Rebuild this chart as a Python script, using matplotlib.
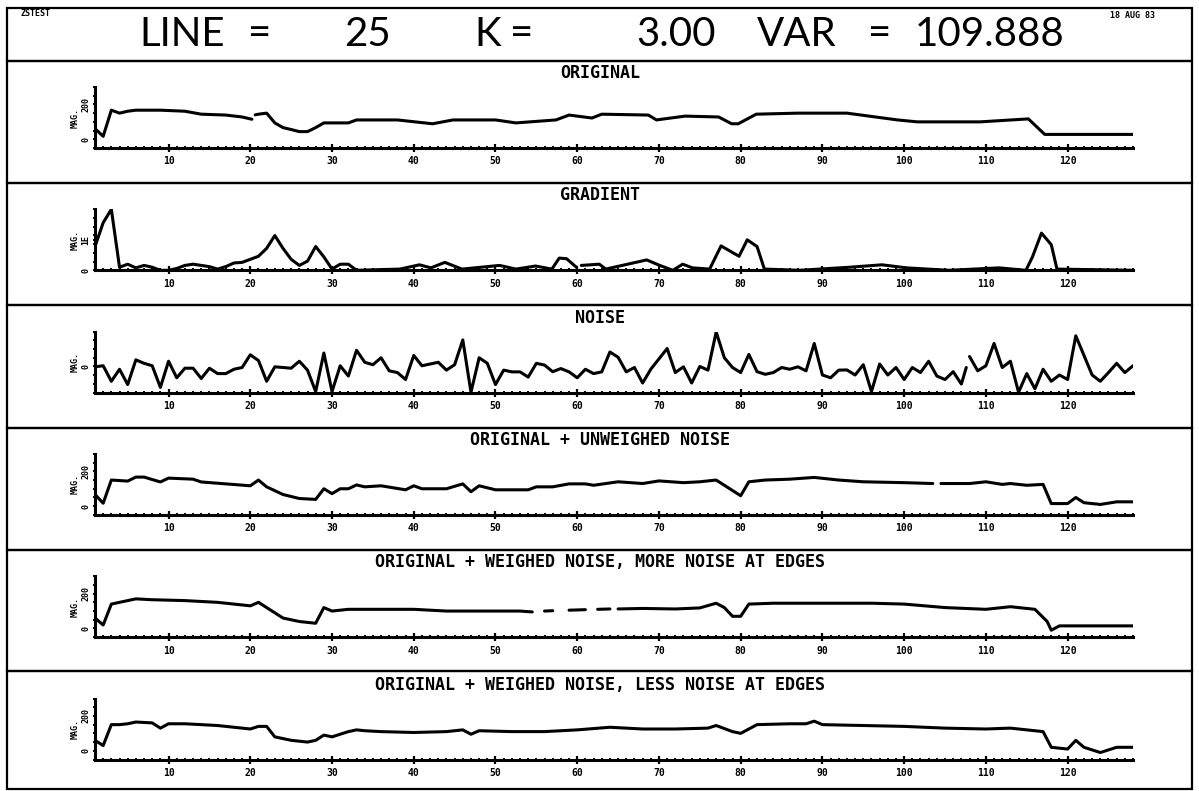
import numpy as np
import matplotlib
matplotlib.use("Agg")
import matplotlib.pyplot as plt
from matplotlib.patches import Rectangle

nan = np.nan

# ---- data ----
orig_x = [1, 2, 3, 4, 5, 6, 9, 12, 14, 17, 19, 20, 20.2, nan, 20.6, 21, 22, 23, 24, 25, 26, 27, 28, 29, 32, 33,
          38, 42.3, 44.8, 50, 52.5, 57.4, 59, 61.8, 63, 68.7, 69.7, 73.2, 77.3, 78.9, 79.7, 81.9, 87, 93,
          99.2, 101.6, 109.3, 115.2, 117.2, 128]
orig_y = [61, 17, 167, 150, 161, 167, 167, 161, 144, 139, 128, 117, 115, nan, 140, 144, 150, 94, 67, 56, 44, 44,
          67, 94, 94, 111, 111, 89, 111, 111, 94, 111, 139, 122, 144, 139, 111, 133, 128, 89, 89, 144, 150, 150,
          111, 100, 100, 117, 28, 28]

grad_x = list(range(1, 34)) + [38.3, 40.7, 42.1, 43.8, 45.9, 50.5, 52.5, 54.9, 56.9, 57.8, 58.7, 59.9, nan,
                               60.5, 62.7, 63.5, 68.5, 70.1, 71.7, 72.9, 74.1, 76.2, 77.6, 79.8, 80.8, 82, 82.9,
                               87.2, 93.3, 97.3, 100.3, 105.5, 111.6, 114.9, 115.7, 116.8, 118, 118.7, 128]
grad_y = [39, 78, 100, 5, 10, 4, 8, 5, 0, 0, 3, 8, 10, 8, 6, 2, 6, 12, 13, 18, 23, 36, 57, 36, 18, 8, 15, 39, 22,
          2, 10, 10, 0,
          2, 9, 4, 13, 2, 8, 2, 7, 2, 20, 19, 5, nan,
          8, 10, 2, 17, 8, 0, 10, 4, 2, 40, 23, 50, 39, 2,
          0, 5, 9, 4, 0, 4, 0, 22, 61, 42, 2, 0]

noise_x = list(range(1, 108)) + [107.6, nan] + list(range(108, 129))
noise_y = [-2, 4, -85, -16, -104, 38, 18, 4, -120, 30, -65, -10, -10, -69, -10, -41, -41, -16, -6, 67,
           34, -85, -2, -6, -10, 30, -21, -144, 77, -144, 4, -55, 93, 24, 10, 50, -25, -35, -75, 63,
           4, 14, 24, -21, 10, 152, -148, 50, 18, -104, -21, -31, -31, -61, 18, 8, -30, -12, -31, -65,
           -16, -41, -31, 83, 53, -31, -6, -95, -16, 44, 103, -35, -2, -95, 0, -21, 198, 50, -6, -35,
           69, -30, -45, -35, -6, -16, -2, -25, 132, -49, -65, -21, -20, -49, 10, -144, 14, -49, -6, -75,
           -6, -35, 30, -55, -75, -30, -101, -6, nan,
           57, -25, 4, 132, -6, 30, -148, -41, -128, -16, -85, -49, -75, 176, 63, -49, -85, -35, 18, -35, 4]

unw_x = [1, 2, 3, 5, 6, 7, 9, 10, 13, 14, 17, 20, 21, 22, 24, 26, 28, 29, 30, 31, 32, 33, 34, 36, 39, 40, 41,
         44, 46, 47, 48, 50, 54, 55, 57, 59, 61, 62, 65, 68, 70, 73, 75, 77, 78, 80, 81, 83, 86, 89, 92, 95,
         100, 103.5, nan, 104.5, 108, 110, 112, 113, 115, 117, 118, 120, 121, 122, 124, 126, 128]
unw_y = [67, 17, 150, 144, 167, 167, 139, 161, 155, 139, 128, 117, 150, 111, 67, 44, 39, 100, 72, 100, 100, 122,
         111, 117, 94, 117, 100, 100, 128, 83, 117, 94, 94, 111, 111, 128, 128, 120, 140, 130, 145, 135, 140,
         150, 120, 60, 140, 150, 155, 165, 150, 140, 135, 130, nan, 130, 130, 140, 125, 130, 120, 125, 15, 15,
         50, 20, 10, 25, 25]

more_x = [1, 2, 3, 4, 6, 8, 12, 16, 20, 21, 22, 24, 26, 28, 29, 30, 32, 36, 40, 44, 48, 52, 53, 54.5, nan,
          56, 57, nan, 59, 61, nan, 62.5, 64, nan, 65, 68, 72, 75, 77, 78, 79, 80, 81, 84, 90, 96, 100, 105,
          110, 113, 116, 117.5, 118, 119, 128]
more_y = [60, 20, 140, 150, 170, 165, 160, 150, 130, 150, 120, 60, 40, 30, 120, 100, 110, 110, 110, 100, 100,
          100, 100, 95, nan, 100, 102, nan, 105, 108, nan, 110, 112, nan, 112, 115, 112, 118, 145, 120, 70, 70,
          140, 145, 145, 145, 140, 120, 110, 125, 110, 40, -10, 15, 15]

less_x = [1, 2, 3, 4, 5, 6, 8, 9, 10, 12, 16, 20, 21, 22, 23, 25, 27, 28, 29, 30, 31, 32, 33, 34, 36, 40, 44,
          46, 47, 48, 52, 56, 60, 64, 68, 72, 76, 77, 79, 80, 82, 86, 88, 89, 90, 95, 100, 105, 110, 113, 115,
          117, 118, 119, 120, 121, 122, 124, 126, 128]
less_y = [60, 30, 150, 150, 155, 165, 160, 130, 155, 155, 145, 125, 140, 140, 80, 60, 50, 60, 90, 80, 95, 110,
          120, 115, 110, 105, 110, 120, 95, 115, 110, 110, 120, 135, 125, 125, 130, 145, 110, 100, 150, 155,
          155, 170, 150, 145, 140, 130, 125, 130, 120, 110, 20, 15, 10, 60, 20, -10, 20, 20]

titles = ["ORIGINAL", "GRADIENT", "NOISE", "ORIGINAL + UNWEIGHED NOISE",
          "ORIGINAL + WEIGHED NOISE, MORE NOISE AT EDGES",
          "ORIGINAL + WEIGHED NOISE, LESS NOISE AT EDGES"]
xticks = [10, 20, 30, 40, 50, 60, 70, 80, 90, 100, 110, 120]
header = [("LINE", 182), ("=", 260), ("25", 368), ("K", 488), ("=", 522),
          ("3.00", 676), ("VAR", 797), ("=", 880), ("109.888", 990)]

W, H = 1199, 791
MONO = ["DejaVu Sans Mono"]


def fx(px):
    return px / W


def fy(py):
    return 1 - py / H


def panel(fig, k, x, y, title, ylim, ylab, ytl):
    top = 87 + 122.3 * k
    bot = 148 + 122.3 * k
    ax = fig.add_axes([fx(95), fy(bot), fx(1133) - fx(95), (bot - top) / H])
    ax.plot(x, y, color="black", lw=2.2, solid_joinstyle="round", solid_capstyle="round")
    ax.set_xlim(1, 128)
    ax.set_ylim(*ylim)
    ax.spines["top"].set_visible(False)
    ax.spines["right"].set_visible(False)
    for s in ["left", "bottom"]:
        ax.spines[s].set_linewidth(2.2)
    ax.set_xticks(xticks)
    ax.set_xticklabels([str(t) for t in xticks], fontsize=7, fontweight="bold", family=MONO)
    ax.set_xticks(np.arange(1, 129), minor=True)
    ax.tick_params(axis="x", which="major", direction="inout", length=6, width=1.6, pad=3)
    ax.tick_params(axis="x", which="minor", direction="inout", length=3, width=1.4)
    step = (ylim[1] - ylim[0]) / 7
    ax.set_yticks(np.arange(ylim[0], ylim[1] + step / 2, step), minor=True)
    ax.set_yticks(list(ytl.keys()))
    ax.set_yticklabels(list(ytl.values()), fontsize=6, fontweight="bold", rotation=90, va="center",
                       family=MONO)
    ax.tick_params(axis="y", which="both", direction="inout", length=3, width=1.4, pad=2)
    ax.set_ylabel(ylab, fontsize=6, fontweight="bold", labelpad=1, family=MONO)
    fig.text(fx(600), fy(73 + 122.3 * k), title, ha="center", va="center",
             fontsize=12, fontweight="bold", family=MONO)
    return ax


fig = plt.figure(figsize=(W / 100, H / 100), dpi=100)

# frames
edges = [8, 61, 183, 305, 428, 550, 671, 789]
for i in range(len(edges) - 1):
    fig.add_artist(Rectangle((fx(7), fy(edges[i + 1])), fx(1192) - fx(7), (edges[i + 1] - edges[i]) / H,
                             transform=fig.transFigure, fill=False, lw=1.6, ec="black"))

# header
for s, cx in header:
    fig.text(fx(cx), fy(34), s, fontsize=29, va="center", ha="center", color="black",
             family=["Lato", "DejaVu Sans"], fontweight="normal")
fig.text(fx(21), fy(14), "ZSTEST", fontsize=6, fontweight="bold", va="center", ha="left", family=MONO)
fig.text(fx(1133), fy(15), "18 AUG 83", fontsize=6, fontweight="bold", va="center", ha="center",
         family=MONO)

panel(fig, 0, orig_x, orig_y, titles[0], (-50, 300), "MAG.", {0: "0", 200: "200"})
panel(fig, 1, grad_x, grad_y, titles[1], (0, 100), "MAG.", {0: "0", 50: "1E"})
panel(fig, 2, noise_x, noise_y, titles[2], (-150, 200), "MAG.", {0: "0"})
panel(fig, 3, unw_x, unw_y, titles[3], (-50, 300), "MAG.", {0: "0", 200: "200"})
panel(fig, 4, more_x, more_y, titles[4], (-50, 300), "MAG.", {0: "0", 200: "200"})
panel(fig, 5, less_x, less_y, titles[5], (-50, 300), "MAG.", {0: "0", 200: "200"})

plt.savefig("out.png", dpi=100)
